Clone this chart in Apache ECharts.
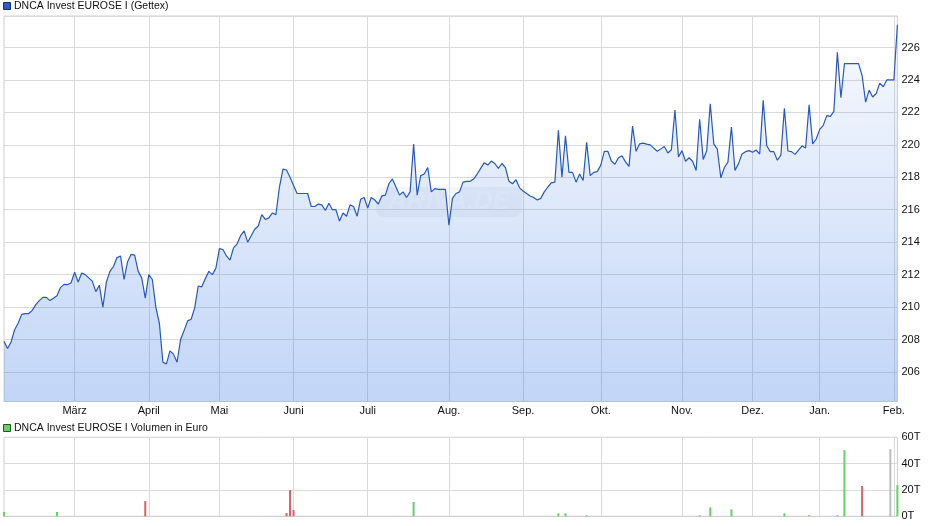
<!DOCTYPE html>
<html><head><meta charset="utf-8">
<script src="https://cdn.jsdelivr.net/npm/echarts@6/dist/echarts.min.js"></script>
<style>html,body{margin:0;padding:0;background:#fff}#c{width:940px;height:526px}</style>
</head><body><div id="c"></div>
<script>
// ---- data ----
const firstDay = '2025-02-03';
const lastDay = '2026-02-03';
const holidays = ['2025-04-18','2025-04-21','2025-05-01','2025-12-24','2025-12-25','2025-12-26','2025-12-31','2026-01-01'];
const monthNames = ['Jan.','Feb.','März','April','Mai','Juni','Juli','Aug.','Sep.','Okt.','Nov.','Dez.'];
const priceTitle = 'DNCA Invest EUROSE I (Gettex)';
const volumeTitle = 'DNCA Invest EUROSE I Volumen in Euro';
const prices = [
207.9,207.45,207.85,208.6,209.0,209.55,209.6,209.6,209.8,210.15,
210.4,210.6,210.6,210.4,210.55,210.7,211.2,211.4,211.38,211.5,
212.15,211.55,212.1,212.0,211.8,211.6,210.95,211.35,210.0,211.55,
212.2,212.5,213.05,213.15,211.7,212.8,213.25,213.2,212.2,211.8,
210.55,212.0,211.7,210.0,209.0,206.6,206.5,207.3,207.1,206.6,
208.0,208.55,209.15,209.25,209.95,211.3,211.25,211.75,212.2,212.0,
212.4,213.6,213.55,213.15,212.9,213.65,213.9,214.4,214.7,214.0,
214.4,214.8,215.0,215.7,215.4,215.5,215.8,215.7,217.4,218.5,
218.45,218.0,217.5,217.0,217.0,217.0,217.0,216.2,216.2,216.35,
216.3,215.95,216.4,216.0,216.0,215.3,215.8,215.6,216.3,216.2,
215.6,216.65,216.75,216.1,216.75,216.6,216.35,216.85,216.9,217.6,
217.9,217.4,216.9,217.1,216.75,217.1,220.05,216.9,218.1,218.2,
218.6,217.1,217.3,217.25,217.25,217.25,215.05,216.7,217.0,217.1,
217.7,217.75,217.75,217.9,218.2,218.55,218.9,218.75,219.0,218.85,
218.55,218.85,218.6,217.75,217.6,217.85,217.35,217.15,217.0,216.85,
216.75,216.6,216.7,217.1,217.4,217.66,217.7,220.9,218.0,220.55,
218.3,218.3,217.7,218.2,217.8,220.15,218.1,218.3,218.35,218.75,
219.6,219.6,219.0,218.8,219.2,219.33,218.95,218.67,221.16,219.6,
220.06,220.1,220.04,220.0,219.8,219.6,219.75,219.9,219.5,219.7,
222.15,219.26,219.64,218.99,219.2,218.99,218.42,221.58,219.1,219.64,
222.53,220.06,219.73,217.96,218.6,218.93,221.1,218.42,218.84,219.43,
219.58,219.64,219.54,219.68,219.43,222.74,219.94,219.58,219.58,219.05,
219.37,222.25,219.62,219.58,219.41,219.68,219.94,219.8,222.46,220.06,
220.36,220.95,221.2,221.8,221.75,222.06,225.7,222.9,225.0,225.0,
225.0,225.0,225.0,224.27,222.63,223.37,222.95,223.16,223.8,223.58,
224.0,224.0,224.0,227.4
];
// volume (thousand euro) at trading-day index
const volIndex = [0,15,40,80,81,82,116,157,159,165,197,200,206,221,228,236,238,243,251,253];
const volValues = [3.3,3.3,11.6,2.5,20,4.8,10.9,2.3,2.3,0.8,0.8,6.8,5.3,2.3,0.8,0.8,50.2,23,51,23.6];
const volDir = ['up','up','down','down','down','down','up','up','up','up','up','up','up','up','up','up','up','down','flat','up'];
const volColors = {up:'#66d066', down:'#d96464', flat:'#bdbdbd'};

// ---- trading-day categories ----
const dates = [];
(function(){
  let d = new Date(firstDay + 'T00:00:00Z');
  const end = new Date(lastDay + 'T00:00:00Z');
  while (d <= end) {
    const wd = d.getUTCDay();
    const s = d.toISOString().slice(0,10);
    if (wd !== 0 && wd !== 6 && holidays.indexOf(s) < 0) dates.push(s);
    d = new Date(d.getTime() + 86400000);
  }
})();
const monthStart = new Set();
for (let i = 1; i < dates.length; i++) {
  if (dates[i].slice(5,7) !== dates[i-1].slice(5,7)) monthStart.add(i);
}
const isMonthStart = (i) => monthStart.has(i);

const volData = dates.map(() => null);
volIndex.forEach((idx, k) => {
  volData[idx] = {value: volValues[k], itemStyle: {color: volColors[volDir[k]]}};
});

const FONT = "'Liberation Sans', Arial, sans-serif";
const gridL = 4, gridR = 42.6;
const chart = echarts.init(document.getElementById('c'), null, {renderer: 'canvas'});
chart.setOption({
  animation: false,
  backgroundColor: '#fff',
  textStyle: {fontFamily: FONT},
  grid: [
    {left: gridL, right: gridR, top: 16, height: 385.5, show: true, borderColor: '#cfcfcf', borderWidth: 1, backgroundColor: 'transparent', containLabel: false, outerBoundsMode: 'none'},
    {left: gridL, right: gridR, top: 437.3, height: 79, show: true, borderColor: '#cfcfcf', borderWidth: 1, containLabel: false, outerBoundsMode: 'none'}
  ],
  xAxis: [
    {type: 'category', gridIndex: 0, data: dates, boundaryGap: false,
     axisLine: {show: true, lineStyle: {color: '#cfcfcf'}},
     axisTick: {show: false},
     axisLabel: {interval: (i) => isMonthStart(i), margin: 4, fontSize: 11, color: '#111',
       fontFamily: "'Liberation Sans Narrow', 'Liberation Sans', Arial, sans-serif",
       formatter: (v) => monthNames[parseInt(v.slice(5,7),10) - 1], hideOverlap: false},
     splitLine: {show: true, interval: (i) => isMonthStart(i), lineStyle: {color: '#dadada', width: 1}}},
    {type: 'category', gridIndex: 1, data: dates, boundaryGap: false,
     axisLine: {show: true, lineStyle: {color: '#cfcfcf'}},
     axisTick: {show: false}, axisLabel: {show: false},
     splitLine: {show: true, interval: (i) => isMonthStart(i), lineStyle: {color: '#dadada', width: 1}}}
  ],
  yAxis: [
    {type: 'value', gridIndex: 0, position: 'right', min: 204.18, max: 227.94, splitNumber: 12, scale: true,
     axisLine: {show: false}, axisTick: {show: false},
     axisLabel: {margin: 4, fontSize: 11, color: '#111', showMinLabel: false, showMaxLabel: false,
       formatter: (v) => String(Math.round(v))},
     splitLine: {show: true, lineStyle: {color: '#dadada', width: 1}}},
    {type: 'value', gridIndex: 1, position: 'right', min: 0, max: 60, interval: 20,
     axisLine: {show: false}, axisTick: {show: false},
     axisLabel: {margin: 4, fontSize: 11, color: '#111', formatter: '{value}T'},
     splitLine: {show: true, lineStyle: {color: '#dadada', width: 1}}}
  ],
  series: [
    {type: 'line', xAxisIndex: 0, yAxisIndex: 0, data: prices, showSymbol: false, symbol: 'none',
     lineStyle: {color: '#2658c0', width: 1.2},
     areaStyle: {color: new echarts.graphic.LinearGradient(0, 0, 0, 1, [
        {offset: 0, color: 'rgba(46,113,228,0.05)'},
        {offset: 1, color: 'rgba(46,113,228,0.42)'}])},
     z: 3},
    {type: 'bar', xAxisIndex: 1, yAxisIndex: 1, data: volData, barWidth: 2, barGap: '-100%'}
  ],
  graphic: [
    {type: 'group', left: 376, top: 187, z: 1, children: [
      {type: 'rect', shape: {x: 0, y: 0, width: 146, height: 30, r: 8}, style: {fill: 'rgba(90,110,150,0.06)'}},
      {type: 'text', style: {x: 73, y: 15, text: 'ARIVA.DE', align: 'center', verticalAlign: 'middle',
        font: 'italic bold 26px ' + FONT, fill: 'rgba(255,255,255,0.45)'}}
    ]},
    {type: 'rect', left: 3, top: 2, shape: {width: 7, height: 7}, style: {fill: '#2a5cc4', stroke: '#1a2f66', lineWidth: 1}},
    {type: 'text', left: 14, top: 0.5, style: {text: priceTitle, font: '10.5px ' + FONT, fill: '#111'}},
    {type: 'rect', left: 3, top: 424, shape: {width: 7, height: 7}, style: {fill: '#66d066', stroke: '#225522', lineWidth: 1}},
    {type: 'text', left: 14, top: 422.5, style: {text: volumeTitle, font: '10.5px ' + FONT, fill: '#111'}}
  ]
});
</script>
</body></html>
